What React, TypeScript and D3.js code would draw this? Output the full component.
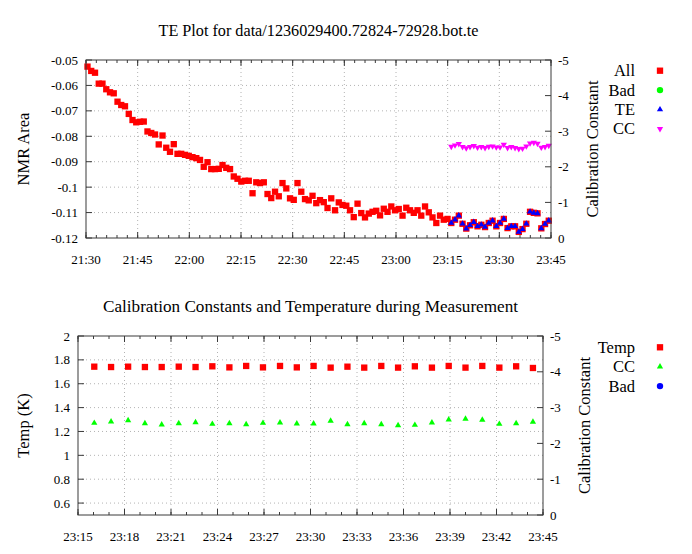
import React from 'react';
import * as d3 from 'd3';

const W = 692;
const H = 554;
const FONT = '"Liberation Serif", "DejaVu Serif", serif';

// measurement times before the TE window (21:30 - 23:15)
const earlyTimes = [
  '21:30:26', '21:31:31', '21:32:37', '21:33:42', '21:34:47', '21:35:53', '21:36:58', '21:38:03', '21:39:09', '21:40:14',
  '21:41:19', '21:42:25', '21:43:30', '21:44:35', '21:45:41', '21:46:46', '21:47:51', '21:48:57', '21:50:02', '21:51:07',
  '21:52:13', '21:53:18', '21:54:23', '21:55:29', '21:56:34', '21:57:39', '21:58:45', '21:59:50', '22:00:55', '22:02:01',
  '22:03:06', '22:04:11', '22:05:17', '22:06:22', '22:07:27', '22:08:33', '22:09:38', '22:10:43', '22:11:49', '22:12:54',
  '22:13:59', '22:15:05', '22:16:10', '22:17:15', '22:18:21', '22:19:26', '22:20:31', '22:21:37', '22:22:42', '22:23:47',
  '22:24:53', '22:25:58', '22:27:03', '22:28:09', '22:29:14', '22:30:19', '22:31:24', '22:32:30', '22:33:35', '22:34:40',
  '22:35:46', '22:36:51', '22:37:56', '22:39:02', '22:40:07', '22:41:12', '22:42:18', '22:43:23', '22:44:28', '22:45:34',
  '22:46:39', '22:47:44', '22:48:50', '22:49:55', '22:51:00', '22:52:06', '22:53:11', '22:54:16', '22:55:22', '22:56:27',
  '22:57:32', '22:58:38', '22:59:43', '23:00:48', '23:01:54', '23:02:59', '23:04:04', '23:05:10', '23:06:15', '23:07:20',
  '23:08:26', '23:09:31', '23:10:36', '23:11:42', '23:12:47', '23:13:52', '23:14:58',
];

const earlyArea = [
  -0.0526, -0.0543, -0.055, -0.0593, -0.0593, -0.0615, -0.0627, -0.0631, -0.0664, -0.0677,
  -0.0682, -0.0712, -0.0736, -0.0745, -0.0743, -0.0742, -0.0781, -0.0787, -0.0793, -0.0832,
  -0.0797, -0.0845, -0.0861, -0.0831, -0.0869, -0.0869, -0.0873, -0.0877, -0.0882, -0.0886,
  -0.0893, -0.092, -0.0902, -0.0929, -0.0929, -0.0928, -0.0913, -0.0924, -0.0929, -0.0958,
  -0.0967, -0.0978, -0.0975, -0.0975, -0.1024, -0.0981, -0.0984, -0.0981, -0.1027, -0.1043,
  -0.1018, -0.1036, -0.0984, -0.1005, -0.1044, -0.105, -0.0984, -0.1018, -0.1047, -0.1052,
  -0.1034, -0.1063, -0.1051, -0.1059, -0.1082, -0.1044, -0.1091, -0.106, -0.107, -0.1073,
  -0.1091, -0.1118, -0.1065, -0.1102, -0.1119, -0.1104, -0.1097, -0.1093, -0.1111, -0.1085,
  -0.1097, -0.1076, -0.1091, -0.1086, -0.1112, -0.1081, -0.1091, -0.1101, -0.1091, -0.1112,
  -0.1076, -0.1099, -0.1119, -0.1141, -0.1112, -0.1128, -0.1125,
];

// TE window (23:15 - 23:45), shared by both plots
const calTimes = [
  '23:16:03', '23:17:08', '23:18:14', '23:19:19', '23:20:24', '23:21:30', '23:22:35', '23:23:40', '23:24:46', '23:25:51',
  '23:26:56', '23:28:02', '23:29:07', '23:30:12', '23:31:18', '23:32:23', '23:33:28', '23:34:34', '23:35:39', '23:36:44',
  '23:37:50', '23:38:55', '23:40:00', '23:41:05', '23:42:11', '23:43:16', '23:44:21',
];

const teArea = [
  -0.1141, -0.1128, -0.1112, -0.1144, -0.1163, -0.115, -0.1138, -0.1154, -0.1148, -0.1157,
  -0.1141, -0.1132, -0.1154, -0.1141, -0.1125, -0.1161, -0.1154, -0.1154, -0.1176, -0.1165,
  -0.1144, -0.1097, -0.1101, -0.1103, -0.1162, -0.1145, -0.1132,
];

const calConst = [
  -2.57, -2.607, -2.644, -2.561, -2.523, -2.561, -2.588, -2.542, -2.561, -2.533,
  -2.57, -2.579, -2.551, -2.551, -2.626, -2.533, -2.561, -2.533, -2.505, -2.514,
  -2.579, -2.663, -2.682, -2.654, -2.542, -2.561, -2.598,
];

const calTemp = [
  1.743, 1.74, 1.743, 1.74, 1.74, 1.743, 1.74, 1.746, 1.737, 1.749,
  1.737, 1.749, 1.737, 1.749, 1.735, 1.743, 1.735, 1.749, 1.735, 1.746,
  1.735, 1.749, 1.735, 1.749, 1.735, 1.746, 1.732,
];

const topSpan = ['21:30:00', '23:45:00'];
const bottomSpan = ['23:15:00', '23:45:00'];
const areaDomain = [-0.12, -0.05];
const tempDomain = [0.5, 2];
const ccDomain = [0, -5];

const parseTime = d3.timeParse('%H:%M:%S');
const fmtTime = d3.timeFormat('%H:%M');
const fmtNum = (v: number) => String(+v.toFixed(2));

const square = d3.symbol().type(d3.symbolSquare).size(40)()!;
const circle = d3.symbol().type(d3.symbolCircle).size(32)()!;
const triangle = d3.symbol().type(d3.symbolTriangle).size(17)()!;

type Marker = { label: string; color: string; path: string; rotate?: number };

type Box = { l: number; r: number; t: number; b: number };

function Panel({
  box, x, major, minor, y, y2, yCount, title, titleWidth, yLabel, legend, legendTop, children,
}: {
  box: Box;
  x: d3.ScaleTime<number, number>;
  major: number;
  minor: number;
  y: d3.ScaleLinear<number, number>;
  y2: d3.ScaleLinear<number, number>;
  yCount: number;
  title: string;
  titleWidth: number;
  yLabel: string;
  legend: Marker[];
  legendTop: number;
  children: React.ReactNode;
}) {
  const { l, r, t, b } = box;
  const xMajor = x.ticks(d3.timeMinute.every(major)!);
  const xMinor = x.ticks(d3.timeMinute.every(minor)!);
  const yTicks = y.ticks(yCount);
  const y2Ticks = y2.ticks(5);
  const grid = '#a0a0a0';
  const axis = '#3a3a3a';
  const midY = (t + b) / 2;

  return (
    <g fontFamily={FONT} fill="#000">
      <text
        x={(l + r) / 2}
        y={t - 24}
        textAnchor="middle"
        fontSize={16}
        textLength={titleWidth}
        lengthAdjust="spacingAndGlyphs"
      >
        {title}
      </text>

      {/* dotted grid */}
      {xMajor.filter((d) => x(d) > l + 1 && x(d) < r - 1).map((d, i) => (
        <line key={'gv' + i} x1={x(d)} x2={x(d)} y1={t} y2={b} stroke={grid} strokeWidth={0.8} strokeDasharray="1,3" />
      ))}
      {yTicks.filter((v) => y(v) > t + 1 && y(v) < b - 1).map((v, i) => (
        <line key={'gh' + i} x1={l} x2={r} y1={y(v)} y2={y(v)} stroke={grid} strokeWidth={0.8} strokeDasharray="1,3" />
      ))}

      {/* x ticks, mirrored on top */}
      {xMinor.map((d, i) => (
        <g key={'xm' + i} stroke={axis} strokeWidth={1}>
          <line x1={x(d)} x2={x(d)} y1={b} y2={b - 3} />
          <line x1={x(d)} x2={x(d)} y1={t} y2={t + 3} />
        </g>
      ))}
      {xMajor.map((d, i) => (
        <g key={'xM' + i}>
          <line x1={x(d)} x2={x(d)} y1={b} y2={b - 6} stroke={axis} />
          <line x1={x(d)} x2={x(d)} y1={t} y2={t + 6} stroke={axis} />
          <text x={x(d)} y={b + 26} textAnchor="middle" fontSize={13}>{fmtTime(d)}</text>
        </g>
      ))}

      {yTicks.map((v, i) => (
        <g key={'y' + i}>
          <line x1={l} x2={l + 6} y1={y(v)} y2={y(v)} stroke={axis} />
          <text x={l - 8} y={y(v) + 4.5} textAnchor="end" fontSize={13}>{fmtNum(v)}</text>
        </g>
      ))}
      {y2Ticks.map((v, i) => (
        <g key={'y2' + i}>
          <line x1={r} x2={r - 6} y1={y2(v)} y2={y2(v)} stroke={axis} />
          <text x={r + 7} y={y2(v) + 4.5} textAnchor="start" fontSize={13}>{fmtNum(v)}</text>
        </g>
      ))}

      <text transform={`translate(23,${midY}) rotate(-90)`} textAnchor="middle" dominantBaseline="central" fontSize={16.5}>{yLabel}</text>
      <text transform={`translate(${r + 41},${midY}) rotate(-90)`} textAnchor="middle" dominantBaseline="central" fontSize={16.5}>Calibration Constant</text>

      {children}

      <rect x={l} y={t} width={r - l} height={b - t} fill="none" stroke={axis} strokeWidth={1} />

      {legend.map((m, i) => {
        const cy = legendTop + i * 19.4;
        return (
          <g key={m.label}>
            <text x={635} y={cy + 5.5} textAnchor="end" fontSize={16.5}>{m.label}</text>
            <path d={m.path} transform={`translate(660,${cy}) rotate(${m.rotate ?? 0})`} fill={m.color} />
          </g>
        );
      })}
    </g>
  );
}

export default function App() {
  const early = earlyTimes.map(parseTime) as Date[];
  const cal = calTimes.map(parseTime) as Date[];
  const allT = early.concat(cal);
  const allArea = earlyArea.concat(teArea);

  const topBox: Box = { l: 86, r: 551, t: 60, b: 238 };
  const botBox: Box = { l: 78, r: 543, t: 336, b: 515 };

  const xTop = d3.scaleTime().domain(topSpan.map((s) => parseTime(s)!)).range([topBox.l, topBox.r]);
  const yArea = d3.scaleLinear().domain(areaDomain).range([topBox.b, topBox.t]);
  const yCcTop = d3.scaleLinear().domain(ccDomain).range([topBox.b, topBox.t]);

  const xBot = d3.scaleTime().domain(bottomSpan.map((s) => parseTime(s)!)).range([botBox.l, botBox.r]);
  const yTemp = d3.scaleLinear().domain(tempDomain).range([botBox.b, botBox.t]);
  const yCcBot = d3.scaleLinear().domain(ccDomain).range([botBox.b, botBox.t]);

  const red = '#ff0000';
  const green = '#00ff00';
  const blue = '#0000ff';
  const magenta = '#ff00ff';

  return (
    <svg width={W} height={H} style={{ position: 'absolute', left: 0, top: 0, background: '#fff' }}>
      <Panel
        box={topBox}
        x={xTop}
        major={15}
        minor={3}
        y={yArea}
        y2={yCcTop}
        yCount={7}
        title="TE Plot for data/1236029400.72824-72928.bot.te"
        titleWidth={320}
        yLabel="NMR Area"
        legendTop={70.7}
        legend={[
          { label: 'All', color: red, path: square },
          { label: 'Bad', color: green, path: circle },
          { label: 'TE', color: blue, path: triangle },
          { label: 'CC', color: magenta, path: triangle, rotate: 180 },
        ]}
      >
        {allArea.map((v, i) => (
          <path key={'a' + i} d={square} transform={`translate(${xTop(allT[i])},${yArea(v)})`} fill={red} />
        ))}
        {teArea.map((v, i) => (
          <path key={'t' + i} d={triangle} transform={`translate(${xTop(cal[i])},${yArea(v)})`} fill={blue} />
        ))}
        {calConst.map((v, i) => (
          <path key={'c' + i} d={triangle} transform={`translate(${xTop(cal[i])},${yCcTop(v)}) rotate(180)`} fill={magenta} />
        ))}
      </Panel>

      <Panel
        box={botBox}
        x={xBot}
        major={3}
        minor={1}
        y={yTemp}
        y2={yCcBot}
        yCount={8}
        title="Calibration Constants and Temperature during Measurement"
        titleWidth={415}
        yLabel="Temp (K)"
        legendTop={347.3}
        legend={[
          { label: 'Temp', color: red, path: square },
          { label: 'CC', color: green, path: triangle },
          { label: 'Bad', color: blue, path: circle },
        ]}
      >
        {calTemp.map((v, i) => (
          <path key={'bt' + i} d={square} transform={`translate(${xBot(cal[i])},${yTemp(v)})`} fill={red} />
        ))}
        {calConst.map((v, i) => (
          <path key={'bc' + i} d={triangle} transform={`translate(${xBot(cal[i])},${yCcBot(v)})`} fill={green} />
        ))}
      </Panel>
    </svg>
  );
}
